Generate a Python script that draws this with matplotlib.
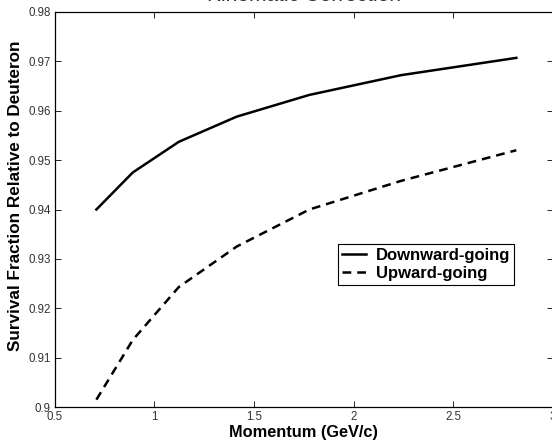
import matplotlib.pyplot as plt

momentum = [0.708, 0.891, 1.122, 1.413, 1.778, 2.239, 2.818]
downward = [0.9400, 0.9475, 0.9537, 0.9588, 0.9632, 0.9672, 0.9707]
upward = [0.9015, 0.9136, 0.9243, 0.9325, 0.9400, 0.9458, 0.9520]

plt.rcParams['font.family'] = ['Liberation Sans', 'DejaVu Sans']

fig = plt.figure(figsize=(5.52, 4.42), dpi=100)
ax = fig.add_axes([0.0996, 0.079, 0.9014, 0.894])

ax.plot(momentum, downward, color='black', linewidth=1.8, label='Downward-going')
ax.plot(momentum, upward, color='black', linewidth=1.8, linestyle=(0, (3.5, 2.4)),
        label='Upward-going')

ax.set_xlim(0.5, 3.0)
ax.set_ylim(0.9, 0.98)
ax.set_xticks([0.5, 1, 1.5, 2, 2.5, 3])
ax.set_xticklabels(['0.5', '1', '1.5', '2', '2.5', '3'])
ax.set_yticks([0.9, 0.91, 0.92, 0.93, 0.94, 0.95, 0.96, 0.97, 0.98])
ax.set_yticklabels(['0.9', '0.91', '0.92', '0.93', '0.94', '0.95', '0.96', '0.97', '0.98'])
ax.tick_params(direction='in', top=True, right=True, length=4, width=0.6,
               labelsize=8.3, labelcolor='#333333', pad=3)
for s in ax.spines.values():
    s.set_linewidth(0.9)

ax.set_xlabel('Momentum (GeV/c)', fontsize=11.8, fontweight='bold', labelpad=1)
ax.set_ylabel('Survival Fraction Relative to Deuteron', fontsize=12.3,
              fontweight='bold')
ax.yaxis.set_label_coords(-0.064, 0.534)
ax.set_title('Kinematic Correction', fontsize=15, pad=8, color='#333333')

leg = ax.legend(loc='upper left', bbox_to_anchor=(0.569, 0.413), borderaxespad=0,
                fancybox=False, edgecolor='black', framealpha=1,
                prop={'weight': 'bold', 'size': 12}, handlelength=1.4,
                handletextpad=0.6, borderpad=0.25, labelspacing=0.15)
leg.get_frame().set_linewidth(0.8)

fig.savefig('out.png', dpi=100)
